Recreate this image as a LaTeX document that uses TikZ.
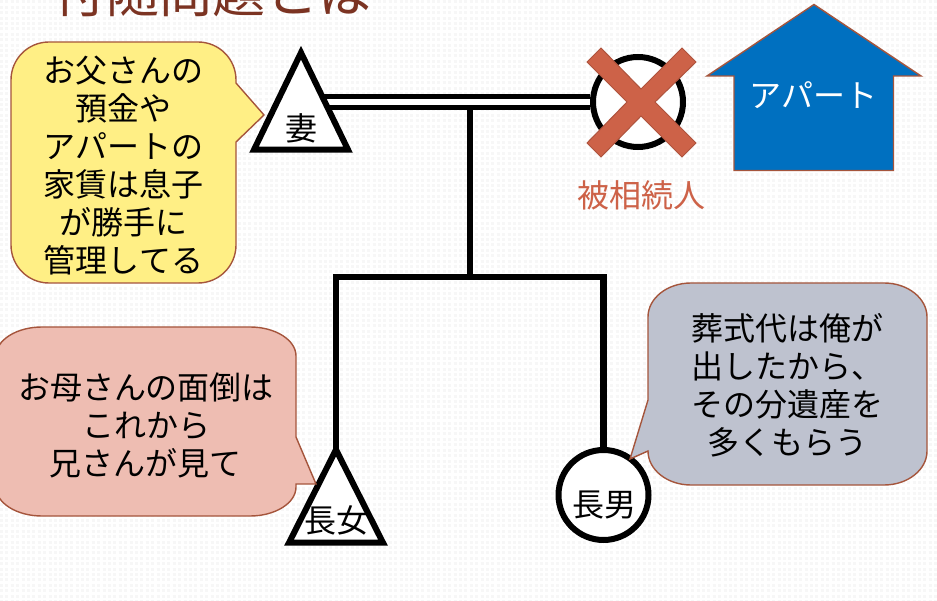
\documentclass[tikz,border=0pt]{standalone}
\usepackage{fontspec}
\setmainfont{Noto Sans CJK JP}
\usetikzlibrary{positioning,backgrounds,shapes.geometric}
\definecolor{sayline}{HTML}{A5553C}
\definecolor{sayyellow}{HTML}{FFEF85}
\definecolor{saypink}{HTML}{EEBDB2}
\definecolor{saygray}{HTML}{BEC2CF}
\definecolor{crossred}{HTML}{CD6248}
\definecolor{housebl}{HTML}{0070C0}
\definecolor{titlebr}{HTML}{7B3322}
\definecolor{paperdot}{HTML}{F7F7F7}
\tikzset{every node/.style={font=\fontsize{32}{38}\selectfont, align=center, inner sep=0pt},
famline/.style={line width=6.5pt},
pairline/.style={double=white, double distance=5.5pt, line width=5pt},
tri/.style={draw, fill=white, line width=6pt, isosceles triangle, isosceles triangle apex angle=53.13, shape border rotate=90, isosceles triangle stretches, anchor=apex, minimum width=94pt, minimum height=97pt},
ring/.style={draw, fill=white, line width=6pt, circle, minimum size=90pt},
saybox/.style={draw=sayline, line width=1.4pt}
}

\begin{document}
\begin{tikzpicture}[x=1pt, y=-1pt, node distance=93pt, on grid]
        \clip (0,0) rectangle (937,601);

        \node[text=titlebr, font=\fontsize{53}{60}\selectfont, anchor=base] (title) at (212,13) {付随問題とは};

        % family
        \node[tri] (wife) at (301,46) {};
        \node (wifename) at (301,128) {妻};
        \node[ring] (dead) at (638,102) {};
        \node[tri, minimum height=93pt] (daughter) at (336,443) {};
        \node (daughtername) at (336,520) {長女};
        \node[ring] (son) at (603.5,495) {};
        \node (sonname) at (604,505) {長男};
        \coordinate (trunk) at (470,107);
        \coordinate (bar) at (470,277);

        \begin{scope}[on background layer]
          \fill[white] (0,0) rectangle (937,601);
          \foreach \row in {0,...,111}
            \draw[paperdot, line width=3pt, dash pattern=on 3pt off 2.4pt] (0,\row*5.4+2) -- (937,\row*5.4+2);
          \draw[pairline] (dead) -- (dead -| wife.center);
          \draw[famline] (trunk) -- (bar);
          \draw[famline] (daughter.center) |- (bar) -| (son.center);
        \end{scope}

        % the cross on the deceased
        \draw[fill=crossred, draw=crossred!85!black, line width=1pt]
          (587,62) -- (601,48) -- (641,89) -- (682,48) -- (696,62) -- (655,102)
          -- (696,143) -- (682,157) -- (641,116) -- (601,157) -- (587,143) -- (627,102) -- cycle;
        \node[text=crossred, below=93pt of dead, xshift=3pt] (deadname) {被相続人};

        % house
        \draw[fill=housebl, draw=sayline, line width=1.4pt]
          (814,4.5) -- (921,76) -- (893.5,76) -- (893.5,170.5) -- (734,170.5) -- (734,76) -- (707,76) -- cycle;
        \node[text=white] (flat) at (813.5,95) {アパート};

        % speech boxes
        \draw[saybox, fill=sayyellow] (236,142) -- (236,245)
          arc[start angle=0, end angle=-90, x radius=38pt, y radius=38pt] -- (49,283)
          arc[start angle=-90, end angle=-180, x radius=38pt, y radius=38pt] -- (11,80)
          arc[start angle=180, end angle=90, x radius=38pt, y radius=38pt] -- (198,42)
          arc[start angle=90, end angle=0, x radius=38pt, y radius=38pt] -- (236,83) -- (264,115) -- cycle;
        \node (saywife) at (123.5,166) {お父さんの\\預金や\\アパートの\\家賃は息子\\が勝手に\\管理してる};

        \draw[saybox, fill=saypink] (296,484) -- (296,487)
          arc[start angle=0, end angle=-90, x radius=46pt, y radius=29pt] -- (42,516)
          arc[start angle=-90, end angle=-180, x radius=46pt, y radius=29pt] -- (-4,356)
          arc[start angle=180, end angle=90, x radius=46pt, y radius=29pt] -- (250,327)
          arc[start angle=90, end angle=0, x radius=46pt, y radius=29pt] -- (296,437) -- (316,484) -- cycle;
        \node (saydaughter) at (146,425) {お母さんの面倒は\\これから\\兄さんが見て};

        \draw[saybox, fill=saygray] (648,451) -- (630,459) -- (648,400) -- (648,317)
          arc[start angle=180, end angle=90, x radius=43pt, y radius=34pt] -- (884,283)
          arc[start angle=90, end angle=0, x radius=43pt, y radius=34pt] -- (927,451)
          arc[start angle=0, end angle=-90, x radius=43pt, y radius=34pt] -- (691,485)
          arc[start angle=-90, end angle=-180, x radius=43pt, y radius=34pt] -- cycle;
        \node (sayson) at (787,385) {葬式代は俺が\\出したから、\\その分遺産を\\多くもらう};
      \end{tikzpicture}
\end{document}
